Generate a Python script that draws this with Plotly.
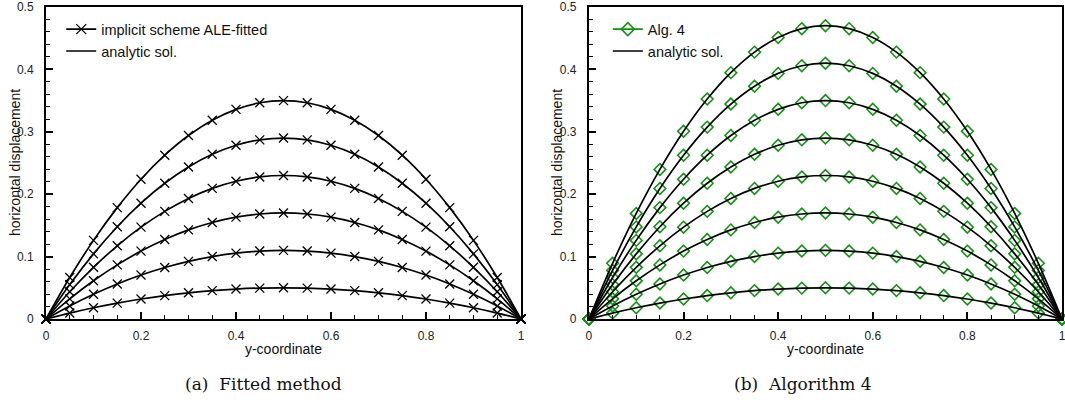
import plotly.graph_objects as go

# y-coordinate sample positions (markers every 0.05)
y_coord = [0.0, 0.05, 0.1, 0.15, 0.2, 0.25, 0.3, 0.35, 0.4, 0.45, 0.5,
           0.55, 0.6, 0.65, 0.7, 0.75, 0.8, 0.85, 0.9, 0.95, 1.0]

# horizontal displacement curves
disp_05 = [0, 0.0095, 0.018, 0.0255, 0.032, 0.0375, 0.042, 0.0455, 0.048, 0.0495, 0.05,
           0.0495, 0.048, 0.0455, 0.042, 0.0375, 0.032, 0.0255, 0.018, 0.0095, 0]
disp_11 = [0, 0.0209, 0.0396, 0.0561, 0.0704, 0.0825, 0.0924, 0.1001, 0.1056, 0.1089, 0.11,
           0.1089, 0.1056, 0.1001, 0.0924, 0.0825, 0.0704, 0.0561, 0.0396, 0.0209, 0]
disp_17 = [0, 0.0323, 0.0612, 0.0867, 0.1088, 0.1275, 0.1428, 0.1547, 0.1632, 0.1683, 0.17,
           0.1683, 0.1632, 0.1547, 0.1428, 0.1275, 0.1088, 0.0867, 0.0612, 0.0323, 0]
disp_23 = [0, 0.0437, 0.0828, 0.1173, 0.1472, 0.1725, 0.1932, 0.2093, 0.2208, 0.2277, 0.23,
           0.2277, 0.2208, 0.2093, 0.1932, 0.1725, 0.1472, 0.1173, 0.0828, 0.0437, 0]
disp_29 = [0, 0.0551, 0.1044, 0.1479, 0.1856, 0.2175, 0.2436, 0.2639, 0.2784, 0.2871, 0.29,
           0.2871, 0.2784, 0.2639, 0.2436, 0.2175, 0.1856, 0.1479, 0.1044, 0.0551, 0]
disp_35 = [0, 0.0665, 0.126, 0.1785, 0.224, 0.2625, 0.294, 0.3185, 0.336, 0.3465, 0.35,
           0.3465, 0.336, 0.3185, 0.294, 0.2625, 0.224, 0.1785, 0.126, 0.0665, 0]
disp_41 = [0, 0.0779, 0.1476, 0.2091, 0.2624, 0.3075, 0.3444, 0.3731, 0.3936, 0.4059, 0.41,
           0.4059, 0.3936, 0.3731, 0.3444, 0.3075, 0.2624, 0.2091, 0.1476, 0.0779, 0]
disp_47 = [0, 0.0893, 0.1692, 0.2397, 0.3008, 0.3525, 0.3948, 0.4277, 0.4512, 0.4653, 0.47,
           0.4653, 0.4512, 0.4277, 0.3948, 0.3525, 0.3008, 0.2397, 0.1692, 0.0893, 0]

left_curves = [disp_05, disp_11, disp_17, disp_23, disp_29, disp_35]
right_curves = [disp_05, disp_11, disp_17, disp_23, disp_29, disp_35, disp_41, disp_47]

x_ticks = [0, 0.2, 0.4, 0.6, 0.8, 1]
x_tick_text = ["0", "0.2", "0.4", "0.6", "0.8", "1"]
y_ticks = [0, 0.1, 0.2, 0.3, 0.4, 0.5]
y_tick_text = ["0", "0.1", "0.2", "0.3", "0.4", "0.5"]

left_legend = ["implicit scheme ALE-fitted", "analytic sol."]
right_legend = ["Alg. 4", "analytic sol."]
x_title = "y-coordinate"
y_title = "horizontal displacement"
captions = ["(a)\u00a0\u00a0Fitted method", "(b)\u00a0\u00a0Algorithm 4"]

GREEN = "#0f960f"
TICKFONT = dict(family="Liberation Sans, Arial, sans-serif", size=12, color="#222")
TITLEFONT = dict(family="Liberation Sans, Arial, sans-serif", size=14, color="#111")

fig = go.Figure()

# ---- left panel ----
for c in left_curves:
    fig.add_trace(go.Scatter(x=y_coord, y=c, mode="markers", showlegend=False,
                             marker=dict(symbol="x-thin-open", size=9, color="black",
                                         line=dict(width=1.3, color="black")),
                             cliponaxis=False, xaxis="x", yaxis="y"))
for c in left_curves:
    fig.add_trace(go.Scatter(x=y_coord, y=c, mode="lines", showlegend=False,
                             line=dict(color="black", width=1.7, shape="spline"),
                             xaxis="x", yaxis="y"))
fig.add_trace(go.Scatter(x=[None], y=[None], mode="lines+markers", name=left_legend[0],
                         line=dict(color="black", width=1.7),
                         marker=dict(symbol="x-thin-open", size=10,
                                     line=dict(width=1.3, color="black")),
                         legend="legend", xaxis="x", yaxis="y"))
fig.add_trace(go.Scatter(x=[None], y=[None], mode="lines", name=left_legend[1],
                         line=dict(color="black", width=1.7),
                         legend="legend", xaxis="x", yaxis="y"))

# ---- right panel ----
for c in right_curves:
    fig.add_trace(go.Scatter(x=y_coord, y=c, mode="markers", showlegend=False,
                             marker=dict(symbol="diamond-open", size=9, color=GREEN,
                                         line=dict(width=1.6, color=GREEN)),
                             cliponaxis=False, xaxis="x2", yaxis="y2"))
for c in right_curves:
    fig.add_trace(go.Scatter(x=y_coord, y=c, mode="lines", showlegend=False,
                             line=dict(color="black", width=1.7, shape="spline"),
                             xaxis="x2", yaxis="y2"))
fig.add_trace(go.Scatter(x=[None], y=[None], mode="lines+markers", name=right_legend[0],
                         line=dict(color=GREEN, width=1.7),
                         marker=dict(symbol="diamond-open", size=10,
                                     line=dict(width=1.6, color=GREEN)),
                         legend="legend2", xaxis="x2", yaxis="y2"))
fig.add_trace(go.Scatter(x=[None], y=[None], mode="lines", name=right_legend[1],
                         line=dict(color="black", width=1.7),
                         legend="legend2", xaxis="x2", yaxis="y2"))


def xaxis(domain, anchor):
    return dict(domain=domain, anchor=anchor, range=[0, 1], tickvals=x_ticks,
                ticktext=x_tick_text, ticks="inside", ticklen=7, tickwidth=1.5,
                tickcolor="black", minor=dict(dtick=0.05, ticks="inside", ticklen=4,
                                              tickwidth=1, tickcolor="black"),
                showline=True, mirror=True, linecolor="black", linewidth=2,
                showgrid=False, zeroline=False, tickfont=TICKFONT,
                ticklabelstandoff=5, ticklabeloverflow="allow",
                title=dict(text=x_title, font=TITLEFONT, standoff=2),
                automargin=False, fixedrange=True)


def yaxis(anchor):
    return dict(domain=[0, 1], anchor=anchor, range=[0, 0.5], tickvals=y_ticks,
                ticktext=y_tick_text, ticks="inside", ticklen=7, tickwidth=1.5,
                tickcolor="black", minor=dict(dtick=0.02, ticks="inside", ticklen=4,
                                              tickwidth=1, tickcolor="black"),
                showline=True, mirror=True, linecolor="black", linewidth=2,
                showgrid=False, zeroline=False, tickfont=TICKFONT,
                ticklabelstandoff=8, ticklabeloverflow="allow",
                automargin=False, fixedrange=True)


legend_common = dict(font=dict(family="Liberation Sans, Arial, sans-serif", size=14.5,
                               color="#111"),
                     bgcolor="rgba(0,0,0,0)", borderwidth=0, tracegroupgap=0,
                     xanchor="left", yanchor="top", itemclick=False,
                     itemdoubleclick=False)

PLOT_L, PLOT_R, PLOT_T, PLOT_B = 46, 3, 7, 81
plot_w = 1065 - PLOT_L - PLOT_R
plot_h = 400 - PLOT_T - PLOT_B


def px_to_paper(px, py):
    return (px - PLOT_L) / plot_w, (400 - PLOT_B - py) / plot_h


annotations = []
# y-axis titles (rotated)
for cx in (15, 557):
    ax_, ay_ = px_to_paper(cx, 163)
    annotations.append(dict(text=y_title, x=ax_, y=ay_, xref="paper", yref="paper",
                            textangle=-90, showarrow=False, xanchor="center",
                            yanchor="middle", font=TITLEFONT))
# subfigure captions
for cap, cx in zip(captions, (263, 802)):
    ax_, ay_ = px_to_paper(cx, 384)
    annotations.append(dict(text=cap, x=ax_, y=ay_, xref="paper", yref="paper",
                            showarrow=False, xanchor="center", yanchor="middle",
                            font=dict(family="DejaVu Serif, serif", size=17,
                                      color="#111")))

fig.update_layout(
    width=1065, height=400,
    margin=dict(l=PLOT_L, r=PLOT_R, t=PLOT_T, b=PLOT_B),
    paper_bgcolor="white", plot_bgcolor="white",
    xaxis=xaxis([0, 0.4675], "y"),
    yaxis=yaxis("x"),
    xaxis2=xaxis([0.5344, 1.0], "y2"),
    yaxis2=yaxis("x2"),
    legend=dict(x=0.015, y=0.98, **legend_common),
    legend2=dict(x=0.553, y=0.98, **legend_common),
    annotations=annotations,
)

fig.write_html("out.html",
               config={"displayModeBar": False},
               post_script="document.body.style.margin='0';"
                           "document.body.style.overflow='hidden';")
